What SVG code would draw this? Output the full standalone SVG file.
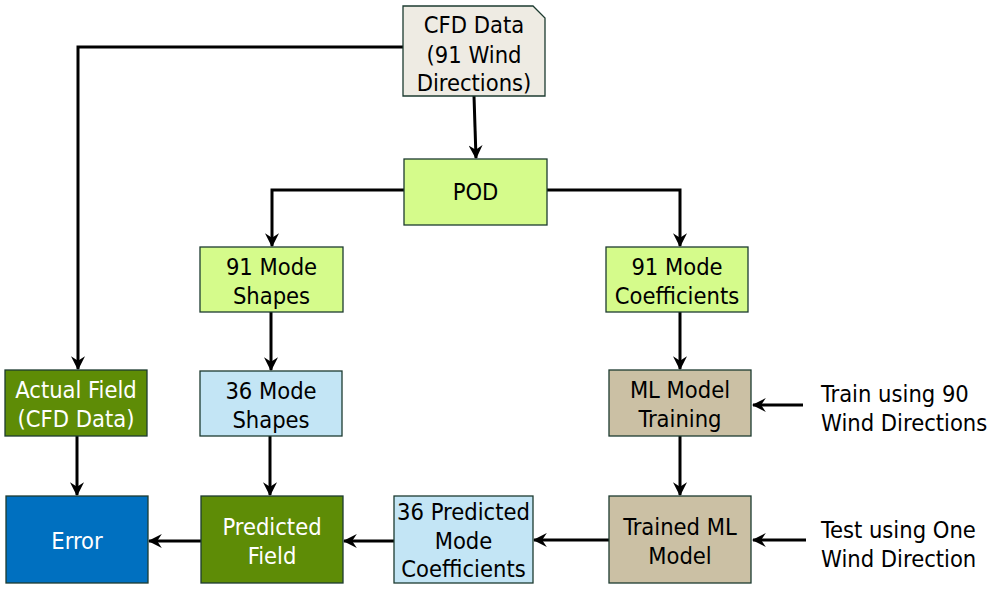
<svg xmlns="http://www.w3.org/2000/svg" width="988" height="593" viewBox="0 0 988 593">
<defs>
<style>
.b{stroke:#1d3b30;stroke-width:1.3}
.t{font-family:"DejaVu Sans Condensed","DejaVu Sans",sans-serif;font-size:23.5px;text-anchor:middle;fill:#000}
.w{fill:#fff}
.c{fill:none;stroke:#000;stroke-width:3}
.l{font-family:"DejaVu Sans Condensed","DejaVu Sans",sans-serif;font-size:23.5px;fill:#000}
</style>
<marker id="a" viewBox="0 0 12 12" refX="11" refY="6" markerWidth="14" markerHeight="14" markerUnits="userSpaceOnUse" orient="auto">
<path d="M0,0 L12,6 L0,12 L4,6 Z" fill="#000"/>
</marker>
</defs>
<rect width="988" height="593" fill="#fff"/>
<g id="connectors">
<path class="c" d="M403,47 H78 V369" marker-end="url(#a)"/>
<path class="c" d="M474,96 L476,158" marker-end="url(#a)"/>
<path class="c" d="M404,190 H272 V246" marker-end="url(#a)"/>
<path class="c" d="M547,190 H680 V246" marker-end="url(#a)"/>
<path class="c" d="M271,312 V370" marker-end="url(#a)"/>
<path class="c" d="M680,312 V369" marker-end="url(#a)"/>
<path class="c" d="M680,436 V495" marker-end="url(#a)"/>
<path class="c" d="M270,436 V495" marker-end="url(#a)"/>
<path class="c" d="M77,436 V495" marker-end="url(#a)"/>
<path class="c" d="M609,540 H534" marker-end="url(#a)"/>
<path class="c" d="M394,541 H344" marker-end="url(#a)"/>
<path class="c" d="M201,541 H149" marker-end="url(#a)"/>
<path class="c" d="M803,405 H753" marker-end="url(#a)"/>
<path class="c" d="M806,540 H753" marker-end="url(#a)"/>
</g>
<g id="cfd">
<path class="b" d="M403,6 H533 L545,18 V96 H403 Z" fill="#eeebe3"/>
<text class="t" x="474" y="33">CFD Data</text>
<text class="t" x="474" y="63">(91 Wind</text>
<text class="t" x="474" y="91">Directions)</text>
</g>
<g id="pod">
<rect class="b" x="404" y="159" width="143" height="66" fill="#d5fb8b"/>
<text class="t" x="475.5" y="200">POD</text>
</g>
<g id="modeShapes91">
<rect class="b" x="200" y="247" width="143" height="65" fill="#d5fb8b"/>
<text class="t" x="271.5" y="275">91 Mode</text>
<text class="t" x="271.5" y="304">Shapes</text>
</g>
<g id="modeCoef91">
<rect class="b" x="606" y="247" width="142" height="65" fill="#d5fb8b"/>
<text class="t" x="677" y="275">91 Mode</text>
<text class="t" x="677" y="304">Coefficients</text>
</g>
<g id="actualField">
<rect class="b" x="5" y="370" width="142" height="66" fill="#5e8c06"/>
<text class="t w" x="76" y="398">Actual Field</text>
<text class="t w" x="76" y="427">(CFD Data)</text>
</g>
<g id="modeShapes36">
<rect class="b" x="200" y="371" width="142" height="65" fill="#c3e5f5"/>
<text class="t" x="271" y="399">36 Mode</text>
<text class="t" x="271" y="428">Shapes</text>
</g>
<g id="mlTraining">
<rect class="b" x="609" y="370" width="142" height="66" fill="#cbc0a4"/>
<text class="t" x="680" y="398">ML Model</text>
<text class="t" x="680" y="427">Training</text>
</g>
<g id="error">
<rect class="b" x="6" y="496" width="142" height="87" fill="#0070c0"/>
<text class="t w" x="77" y="549">Error</text>
</g>
<g id="predictedField">
<rect class="b" x="201" y="496" width="142" height="87" fill="#5e8c06"/>
<text class="t w" x="272" y="535">Predicted</text>
<text class="t w" x="272" y="564">Field</text>
</g>
<g id="predCoef36">
<rect class="b" x="394" y="496" width="139" height="87" fill="#c3e5f5"/>
<text class="t" x="463.5" y="520">36 Predicted</text>
<text class="t" x="463.5" y="549">Mode</text>
<text class="t" x="463.5" y="577">Coefficients</text>
</g>
<g id="trainedModel">
<rect class="b" x="609" y="496" width="142" height="87" fill="#cbc0a4"/>
<text class="t" x="680" y="535">Trained ML</text>
<text class="t" x="680" y="564">Model</text>
</g>
<g id="labels">
<text class="l" x="821" y="402">Train using 90</text>
<text class="l" x="821" y="431">Wind Directions</text>
<text class="l" x="821" y="538">Test using One</text>
<text class="l" x="821" y="567">Wind Direction</text>
</g>
</svg>
